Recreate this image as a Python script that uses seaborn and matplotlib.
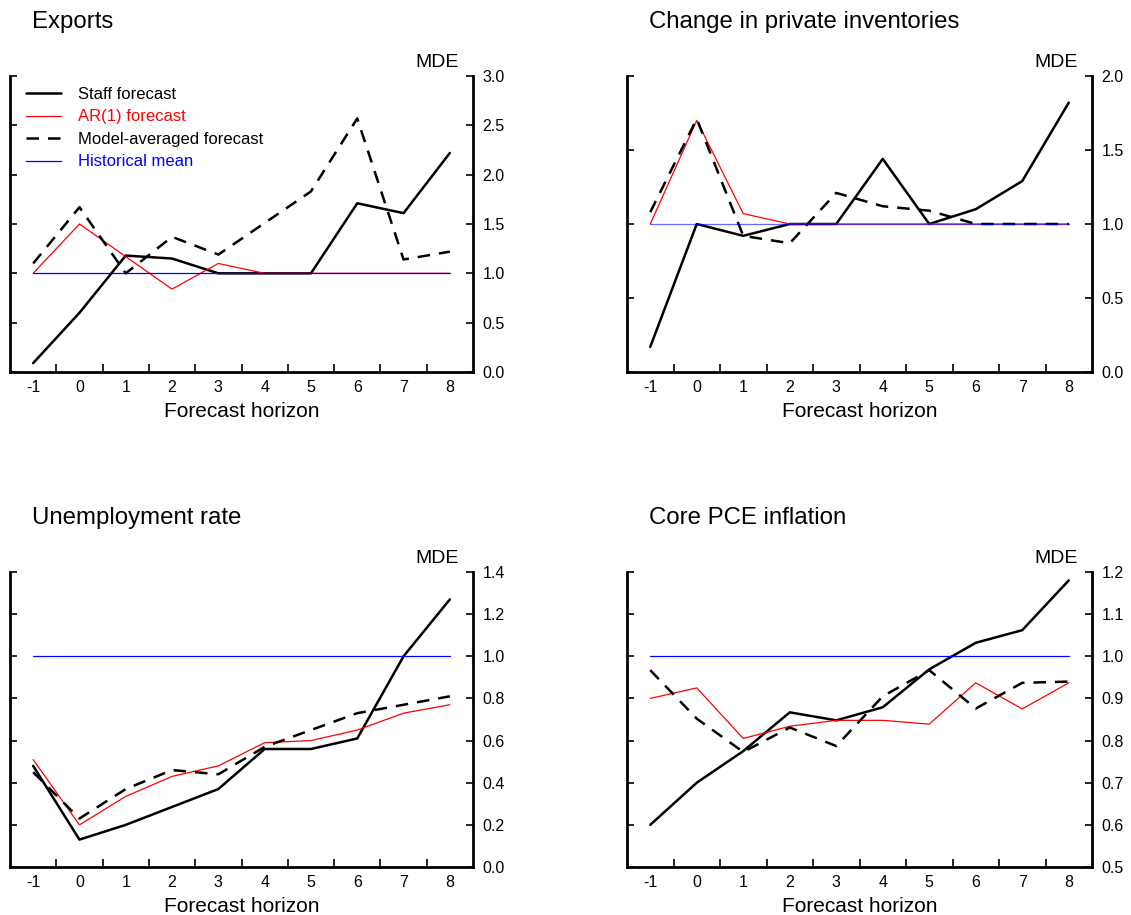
import numpy as np
import pandas as pd
import matplotlib
matplotlib.use("Agg")
import matplotlib.pyplot as plt
import seaborn as sns

# Forecast horizons (quarters)
horizon = [-1, 0, 1, 2, 3, 4, 5, 6, 7, 8]

# Mean directional error (MDE) by forecast type
exports_staff = [0.09, 0.60, 1.18, 1.15, 1.00, 1.00, 1.00, 1.71, 1.61, 2.22]
exports_ar1 = [1.00, 1.50, 1.17, 0.84, 1.10, 1.00, 1.00, 1.00, 1.00, 1.00]
exports_avg = [1.10, 1.67, 1.00, 1.37, 1.19, 1.51, 1.83, 2.57, 1.14, 1.22]
exports_mean = [1.0] * 10

inventories_staff = [0.17, 1.00, 0.92, 1.00, 1.00, 1.44, 1.00, 1.10, 1.29, 1.82]
inventories_ar1 = [1.00, 1.70, 1.07, 1.00, 1.00, 1.00, 1.00, 1.00, 1.00, 1.00]
inventories_avg = [1.08, 1.71, 0.92, 0.87, 1.21, 1.12, 1.09, 1.00, 1.00, 1.00]
inventories_mean = [1.0] * 10

unemp_staff = [0.48, 0.13, 0.20, 0.285, 0.37, 0.56, 0.56, 0.61, 1.00, 1.27]
unemp_ar1 = [0.51, 0.20, 0.335, 0.43, 0.48, 0.59, 0.60, 0.65, 0.73, 0.77]
unemp_avg = [0.45, 0.23, 0.37, 0.46, 0.44, 0.57, 0.65, 0.73, 0.77, 0.81]
unemp_mean = [1.0] * 10

pce_staff = [0.60, 0.70, 0.775, 0.867, 0.848, 0.879, 0.969, 1.032, 1.062, 1.18]
pce_ar1 = [0.90, 0.925, 0.805, 0.834, 0.848, 0.848, 0.839, 0.937, 0.875, 0.937]
pce_avg = [0.967, 0.852, 0.773, 0.831, 0.787, 0.905, 0.967, 0.876, 0.937, 0.94]
pce_mean = [1.0] * 10

titles = ["Exports", "Change in private inventories",
          "Unemployment rate", "Core PCE inflation"]
series_labels = ["Staff forecast", "AR(1) forecast",
                 "Model-averaged forecast", "Historical mean"]

panels = [
    (exports_staff, exports_ar1, exports_avg, exports_mean, (0.0, 3.0), 0.5),
    (inventories_staff, inventories_ar1, inventories_avg, inventories_mean, (0.0, 2.0), 0.5),
    (unemp_staff, unemp_ar1, unemp_avg, unemp_mean, (0.0, 1.4), 0.2),
    (pce_staff, pce_ar1, pce_avg, pce_mean, (0.5, 1.2), 0.1),
]

sns.set_style("white")
plt.rcParams["font.family"] = ["Liberation Sans", "DejaVu Sans"]
plt.rcParams.update({"text.color": "black", "axes.labelcolor": "black",
                     "xtick.color": "black", "ytick.color": "black"})

W, H = 1131, 915
fig = plt.figure(figsize=(W / 100, H / 100), dpi=100)

# axes boxes in pixel coordinates: left, top, right, bottom
boxes = [(10, 76, 473, 372), (627, 76, 1092, 372),
         (10, 572, 473, 867), (627, 572, 1092, 867)]

styles = [
    dict(color="black", linewidth=1.8, linestyle="-"),
    dict(color="red", linewidth=0.9, linestyle="-"),
    dict(color="black", linewidth=1.8, linestyle=(0, (5, 3.6))),
    dict(color="blue", linewidth=0.9, linestyle="-"),
]

for i, (box, title, panel) in enumerate(zip(boxes, titles, panels)):
    l, t, r, b = box
    ax = fig.add_axes([l / W, 1 - b / H, (r - l) / W, (b - t) / H])
    staff, ar1, avg, mean, ylim, step = panel
    df = pd.DataFrame({"horizon": horizon, "staff": staff, "ar1": ar1,
                       "avg": avg, "mean": mean})
    for key, lab, st in zip(["staff", "ar1", "avg", "mean"], series_labels, styles):
        kw = dict(st)
        if key == "mean" and i == 1:
            kw["alpha"] = 0.6
        sns.lineplot(data=df, x="horizon", y=key, ax=ax, label=lab if i == 0 else None,
                     legend=False, **kw)

    ax.set_xlim(-1.5, 8.5)
    ax.set_ylim(*ylim)
    yt = np.round(np.arange(ylim[0], ylim[1] + step / 2, step), 2)
    ax.set_yticks(yt)
    ax.set_yticklabels([f"{v:.1f}" for v in yt])
    ax.set_xticks(horizon)
    ax.set_xticklabels([str(h) for h in horizon])
    ax.set_xticks(np.arange(-0.5, 8.0, 1.0), minor=True)

    ax.yaxis.tick_right()
    ax.tick_params(axis="y", which="major", left=True, right=True, labelleft=False,
                   labelright=True, direction="in", length=5, width=1.2,
                   labelsize=11.5, pad=7, colors="black")
    ax.tick_params(axis="x", which="major", length=0, labelsize=11.5, pad=6,
                   colors="black")
    ax.tick_params(axis="x", which="minor", bottom=True, direction="in",
                   length=6, width=1.2, colors="black")

    for side in ["left", "right", "bottom"]:
        ax.spines[side].set_visible(True)
        ax.spines[side].set_linewidth(2.0)
        ax.spines[side].set_color("black")
    ax.spines["top"].set_visible(False)

    ax.set_ylabel("")
    ax.set_xlabel("Forecast horizon", fontsize=15, labelpad=4.5, color="black")

    ax.annotate(title, xy=(-1, 1), xycoords=("data", "axes fraction"),
                xytext=(-1, 48), textcoords="offset pixels",
                fontsize=17.3, ha="left", va="baseline", color="black")
    ax.annotate("MDE", xy=(1, 1), xycoords="axes fraction",
                xytext=(-14, 9), textcoords="offset pixels",
                fontsize=14, ha="right", va="baseline", color="black")

    if i == 0:
        leg = ax.legend(loc="upper left", bbox_to_anchor=(16 / (r - l), 1 - 11 / (b - t)),
                        frameon=False, fontsize=12, handlelength=2.1,
                        handletextpad=1.0, labelspacing=0.45,
                        borderaxespad=0, borderpad=0, labelcolor="linecolor")

fig.savefig("out.png", dpi=100)
